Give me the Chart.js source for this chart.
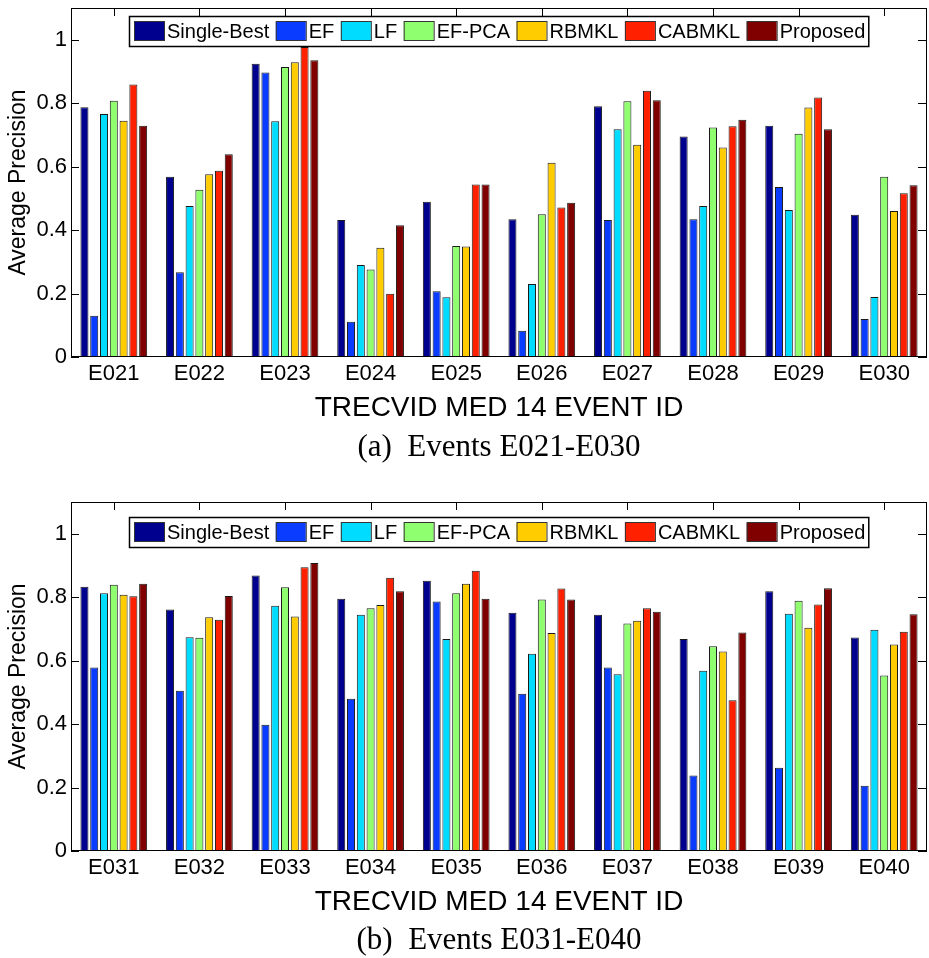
<!DOCTYPE html>
<html>
<head>
<meta charset="utf-8">
<script src="https://cdn.jsdelivr.net/npm/chart.js@4.4.0/dist/chart.umd.min.js"></script>
<style>
body { margin:0; background:#fff; }
#wrap { position:relative; width:929px; height:958px; overflow:hidden; }
canvas { position:absolute; left:0; }
.cap { position:absolute; left:71px; width:856px; text-align:center; font-family:"Liberation Serif","Times New Roman",serif; font-size:31px; line-height:34px; color:#000; white-space:pre; }
</style>
</head>
<body>
<div id="wrap">
  <canvas id="chartA" width="929" height="430" style="top:0"></canvas>
  <div class="cap" style="top:429px">(a)  Events E021-E030</div>
  <canvas id="chartB" width="929" height="430" style="top:494px"></canvas>
  <div class="cap" style="top:922px">(b)  Events E031-E040</div>
</div>
<script>
// ----------------- data ----------------- //
const seriesNames = ['Single-Best', 'EF', 'LF', 'EF-PCA', 'RBMKL', 'CABMKL', 'Proposed'];
const yTickVals = [0, 0.2, 0.4, 0.6, 0.8, 1];

// (a) E021 - E030
const eventsA = ['E021', 'E022', 'E023', 'E024', 'E025', 'E026', 'E027', 'E028', 'E029', 'E030'];
const singleBestA = [0.787, 0.568, 0.924, 0.432, 0.489, 0.434, 0.790, 0.695, 0.729, 0.448];
const efA         = [0.130, 0.267, 0.897, 0.111, 0.207, 0.083, 0.432, 0.434, 0.536, 0.120];
const lfA         = [0.766, 0.476, 0.743, 0.290, 0.188, 0.230, 0.718, 0.476, 0.463, 0.189];
const efPcaA      = [0.808, 0.527, 0.914, 0.276, 0.350, 0.450, 0.806, 0.723, 0.704, 0.568];
const rbmklA      = [0.745, 0.576, 0.929, 0.344, 0.348, 0.612, 0.669, 0.660, 0.786, 0.460];
const cabmklA     = [0.859, 0.587, 0.977, 0.199, 0.544, 0.471, 0.839, 0.727, 0.818, 0.516];
const proposedA   = [0.729, 0.639, 0.935, 0.415, 0.544, 0.486, 0.809, 0.748, 0.718, 0.541];

// (b) E031 - E040
const eventsB = ['E031', 'E032', 'E033', 'E034', 'E035', 'E036', 'E037', 'E038', 'E039', 'E040'];
const singleBestB = [0.833, 0.761, 0.868, 0.795, 0.852, 0.751, 0.745, 0.668, 0.819, 0.673];
const efB         = [0.578, 0.505, 0.398, 0.480, 0.786, 0.496, 0.578, 0.238, 0.262, 0.206];
const lfB         = [0.812, 0.674, 0.773, 0.745, 0.668, 0.622, 0.557, 0.568, 0.748, 0.697];
const efPcaB      = [0.839, 0.672, 0.831, 0.765, 0.812, 0.793, 0.717, 0.645, 0.789, 0.553];
const rbmklB      = [0.808, 0.737, 0.739, 0.775, 0.842, 0.687, 0.726, 0.629, 0.704, 0.651];
const cabmklB     = [0.803, 0.729, 0.894, 0.861, 0.883, 0.827, 0.765, 0.475, 0.777, 0.691];
const proposedB   = [0.842, 0.804, 0.908, 0.819, 0.795, 0.793, 0.754, 0.689, 0.828, 0.746];

// jet-like colours, one per series
const palette = ['#00008f', '#0a3cff', '#00dcff', '#8fff6f', '#ffcc00', '#ff2000', '#800000'];
const sansFont = '"Liberation Sans", Arial, Helvetica, sans-serif';

Chart.defaults.font.family = sansFont;
Chart.defaults.color = '#000';

// frame, inward ticks and boxed legend (matlab look)
const matlabAxes = {
	id: 'matlabAxes',
	afterDatasetsDraw(chart, args, o) {
		const { ctx, chartArea: a, scales: { x, y } } = chart;
		ctx.save();
		ctx.strokeStyle = '#000';
		ctx.lineWidth = 1;
		ctx.beginPath();
		yTickVals.forEach(v => {
			const py = Math.round(y.getPixelForValue(v)) + 0.5;
			ctx.moveTo(a.left, py); ctx.lineTo(a.left + 8, py);
			ctx.moveTo(a.right - 9, py); ctx.lineTo(a.right, py);
		});
		chart.data.labels.forEach((l, i) => {
			const px = Math.round(x.getPixelForValue(i)) + 0.5;
			ctx.moveTo(px, a.top); ctx.lineTo(px, a.top + 8);
		});
		ctx.stroke();
		ctx.strokeRect(a.left + 0.5, a.top + 0.5, a.right - a.left - 1, a.bottom - a.top - 1);

		// legend
		ctx.font = '20px ' + sansFont;
		const sw = 30, sh = 19, gap = 3, itemGap = 6.5, padL = 5, padR = 3, boxH = 30;
		const widths = chart.data.datasets.map(d => ctx.measureText(d.label).width);
		let total = padL + padR;
		widths.forEach((w, i) => total += sw + gap + w + (i < widths.length - 1 ? itemGap : 0));
		const bx = Math.round((a.left + a.right) / 2 - total / 2);
		const by = Math.round(a.top + o.legendTop);
		ctx.fillStyle = '#fff';
		ctx.fillRect(bx, by, total, boxH);
		ctx.lineWidth = 1.5;
		ctx.strokeRect(bx + 0.5, by + 0.5, total, boxH);
		let cx = bx + padL;
		ctx.textBaseline = 'middle';
		ctx.textAlign = 'left';
		chart.data.datasets.forEach((d, i) => {
			ctx.fillStyle = d.backgroundColor;
			ctx.fillRect(cx, by + 5.5, sw, sh);
			ctx.lineWidth = 1;
			ctx.strokeStyle = '#333';
			ctx.strokeRect(cx + 0.5, by + 5.5, sw, sh);
			cx += sw + gap;
			ctx.fillStyle = '#000';
			ctx.fillText(d.label, cx, by + boxH / 2 + 1);
			cx += widths[i] + itemGap;
		});
		ctx.restore();
	}
};

function makeChart(id, events, rows, cfg) {
	return new Chart(document.getElementById(id), {
		type: 'bar',
		data: {
			labels: events,
			datasets: rows.map((r, i) => ({
				label: seriesNames[i],
				data: r,
				backgroundColor: palette[i],
				borderColor: '#1a1a1a',
				borderWidth: 1,
				categoryPercentage: 0.8,
				barPercentage: 0.82
			}))
		},
		options: {
			responsive: false,
			animation: false,
			layout: { padding: { top: 8, right: 2, left: 0, bottom: 0 } },
			plugins: {
				legend: { display: false },
				tooltip: { enabled: false },
				matlabAxes: { legendTop: cfg.legendTop }
			},
			scales: {
				x: {
					grid: { display: false, drawTicks: false },
					border: { display: false },
					ticks: { color: '#000', font: { size: 22 }, padding: 4, maxRotation: 0, autoSkip: false },
					title: { display: true, text: 'TRECVID MED 14 EVENT ID', color: '#000', font: { size: 28 }, padding: { top: 0, bottom: cfg.titlePad } },
					afterFit(s) { s.height = 73; s.paddingLeft = 0; s.paddingRight = 0; }
				},
				y: {
					min: 0,
					max: 1.1,
					grid: { display: false, drawTicks: false },
					border: { display: false },
					ticks: { color: '#000', font: { size: 22 }, padding: 4, callback: v => String(v) },
					afterBuildTicks(s) { s.ticks = yTickVals.map(v => ({ value: v })); },
					title: { display: true, text: 'Average Precision', color: '#000', font: { size: 23 }, padding: { top: 4.5, bottom: 0 } },
					afterFit(s) { s.width = 71; s.paddingTop = 0; s.paddingBottom = 0; }
				}
			}
		},
		plugins: [matlabAxes]
	});
}

makeChart('chartA', eventsA,
	[singleBestA, efA, lfA, efPcaA, rbmklA, cabmklA, proposedA],
	{ legendTop: 8, titlePad: 5.2 });

makeChart('chartB', eventsB,
	[singleBestB, efB, lfB, efPcaB, rbmklB, cabmklB, proposedB],
	{ legendTop: 15, titlePad: 4.7 });
</script>
</body>
</html>
